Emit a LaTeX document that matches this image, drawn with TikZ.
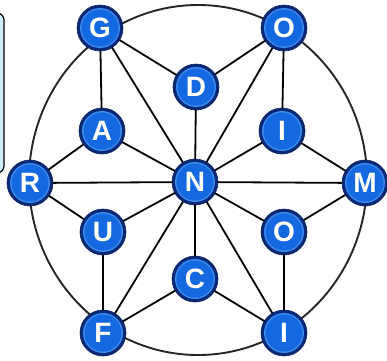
\documentclass[tikz,border=0pt]{standalone}
\usepackage{fontspec}
\newfontfamily\ballfont{Liberation Sans}
\definecolor{ballin}{RGB}{20,105,225}
\definecolor{ballring}{RGB}{60,140,235}
\definecolor{ballout}{RGB}{8,40,120}
\definecolor{boxfill}{RGB}{185,232,248}
\begin{document}
\begin{tikzpicture}[
  x=1pt, y=-1pt,
  line cap=round,
  line join=round,
  ball/.style={circle, minimum size=46pt, inner sep=0pt,
    fill=ballout, draw=ballout!80!black, line width=0.6pt, text=white,
    font=\ballfont\bfseries\fontsize{28}{28}\selectfont,
    path picture={
      \fill[ballring] (path picture bounding box.center) circle (20pt);
      \fill[ballin] (path picture bounding box.center) circle (18.5pt);
    }},
  link/.style={line width=1.8pt}
]
  \useasboundingbox (0,0) rectangle (387,360);

  % Рамка слева
  \draw[line width=1.2pt, rounded corners=7pt, left color=boxfill, right color=boxfill!60]
    (-12,13) rectangle (4,173);

  % Окружность
  \draw[line width=1.9pt, black!85] (198,180) ellipse [x radius=169, y radius=175];

  % Буквы
  \node[ball] (G)  at (100,28)  {G};
  \node[ball] (O1) at (284,28)  {O};
  \node[ball] (D)  at (196,87)  {D};
  \node[ball] (A)  at (102,131) {A};
  \node[ball] (I1) at (282,131) {I};
  \node[ball] (R)  at (30,183)  {R};
  \node[ball] (N)  at (195,182) {N};
  \node[ball] (M)  at (365,183) {M};
  \node[ball] (U)  at (103,232) {U};
  \node[ball] (O2) at (284,232) {O};
  \node[ball] (C)  at (195,279) {C};
  \node[ball] (F)  at (103,333) {F};
  \node[ball] (I2) at (284,333) {I};

  % Лучи из центра
  \foreach \v in {G,D,O1,I1,M,O2,I2,C,F,U,R,A}
    \draw[link] (N) -- (\v);

  % Внешние связи
  \draw[link] (G) -- (D) -- (O1) -- (I1) -- (M) -- (O2) -- (I2) -- (C)
    -- (F) -- (U) -- (R) -- (A) -- (G);
\end{tikzpicture}
\end{document}
